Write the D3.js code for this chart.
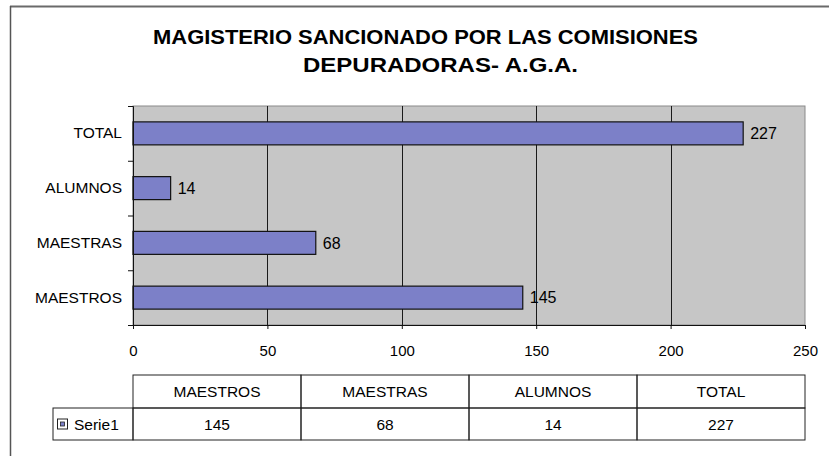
<!DOCTYPE html>
<html>
<head>
<meta charset="utf-8">
<script src="https://cdn.jsdelivr.net/npm/d3@7"></script>
<style>
  html, body { margin: 0; padding: 0; background: #fff; }
  svg text { font-family: "Liberation Sans", Arial, sans-serif; fill: #000; }
</style>
</head>
<body>
<svg id="chart" width="829" height="456"></svg>
<script>
// ---- data ----
const categories = ["MAESTROS", "MAESTRAS", "ALUMNOS", "TOTAL"];
const values = [145, 68, 14, 227];
const seriesName = "Serie1";
const xTicks = [0, 50, 100, 150, 200, 250];
const titleLines = ["MAGISTERIO SANCIONADO POR LAS COMISIONES", "DEPURADORAS- A.G.A."];

const data = categories.map((c, i) => ({ cat: c, val: values[i] }));
const FONT = "Liberation Sans, Arial, sans-serif";

const svg = d3.select("#chart");

// outer frame (top and left edges visible)
svg.append("line").attr("x1", 10).attr("y1", 6.5).attr("x2", 829).attr("y2", 6.5)
  .attr("stroke", "#6a6a6a").attr("stroke-width", 2);
svg.append("line").attr("x1", 10.5).attr("y1", 6).attr("x2", 10.5).attr("y2", 456)
  .attr("stroke", "#555").attr("stroke-width", 1.5);

// title
svg.append("text").attr("x", 425.5).attr("y", 44).attr("text-anchor", "middle")
  .attr("font-size", 21).attr("font-weight", "bold")
  .attr("textLength", 545).attr("lengthAdjust", "spacingAndGlyphs")
  .text(titleLines[0]);
svg.append("text").attr("x", 440.5).attr("y", 72).attr("text-anchor", "middle")
  .attr("font-size", 21).attr("font-weight", "bold")
  .attr("textLength", 275).attr("lengthAdjust", "spacingAndGlyphs")
  .text(titleLines[1]);

// plot area
const plot = { left: 133, right: 805, top: 106, bottom: 325 };
const x = d3.scaleLinear().domain([0, 250]).range([plot.left, plot.right]);
const y = d3.scaleBand().domain(categories.slice().reverse())
  .range([plot.top, plot.bottom]).paddingInner(0.58).paddingOuter(0.29);
const yBound = d3.scaleLinear().domain([0, categories.length]).range([plot.top, plot.bottom]);

svg.append("rect").attr("x", plot.left).attr("y", plot.top)
  .attr("width", plot.right - plot.left).attr("height", plot.bottom - plot.top)
  .attr("fill", "#c6c6c6").attr("stroke", "#8a8a8a").attr("stroke-width", 1);

// vertical gridlines
svg.append("g").selectAll("line").data(xTicks.slice(1, -1)).join("line")
  .attr("x1", d => Math.round(x(d)) + 0.5).attr("x2", d => Math.round(x(d)) + 0.5)
  .attr("y1", plot.top).attr("y2", plot.bottom)
  .attr("stroke", "#1a1a1a").attr("stroke-width", 1);

// bars
svg.append("g").selectAll("rect").data(data).join("rect")
  .attr("x", x(0)).attr("y", d => y(d.cat))
  .attr("width", d => x(d.val) - x(0)).attr("height", y.bandwidth())
  .attr("fill", "#7c80c8").attr("stroke", "#111").attr("stroke-width", 1.2);

// value labels
svg.append("g").selectAll("text").data(data).join("text")
  .attr("x", d => x(d.val) + 7).attr("y", d => y(d.cat) + y.bandwidth() / 2)
  .attr("dy", "0.36em").attr("font-size", 16).text(d => d.val);

// x axis
const xAxis = svg.append("g").attr("transform", `translate(0,${plot.bottom})`)
  .call(d3.axisBottom(x).tickValues(xTicks).tickSize(4).tickPadding(16));
xAxis.select(".domain").attr("stroke", "#111");
xAxis.selectAll(".tick line").attr("stroke", "#111");
xAxis.selectAll("text").attr("font-size", 15).attr("font-family", FONT);

// y axis: boundary ticks
const yAxisTicks = svg.append("g").attr("transform", `translate(${plot.left},0)`)
  .call(d3.axisLeft(yBound).ticks(4).tickSize(5).tickFormat(""));
yAxisTicks.select(".domain").attr("stroke", "#111");
yAxisTicks.selectAll(".tick line").attr("stroke", "#111");

// y axis: category labels
const yAxis = svg.append("g").attr("transform", `translate(${plot.left},0)`)
  .call(d3.axisLeft(y).tickSize(0).tickPadding(11));
yAxis.select(".domain").remove();
yAxis.selectAll("text").attr("font-size", 15.5).attr("font-family", FONT);

// data table
const tbl = { top: 375, mid: 408, bottom: 440, legendLeft: 53 };
const xc = d3.scaleBand().domain(categories).range([plot.left, plot.right]);
const tg = svg.append("g");
const stroke = "#222";
tg.selectAll("rect.h").data(categories).join("rect").attr("class", "h")
  .attr("x", d => xc(d)).attr("y", tbl.top).attr("width", xc.bandwidth()).attr("height", tbl.mid - tbl.top)
  .attr("fill", "none").attr("stroke", stroke).attr("stroke-width", 1);
tg.selectAll("rect.v").data(categories).join("rect").attr("class", "v")
  .attr("x", d => xc(d)).attr("y", tbl.mid).attr("width", xc.bandwidth()).attr("height", tbl.bottom - tbl.mid)
  .attr("fill", "none").attr("stroke", stroke).attr("stroke-width", 1);
tg.append("rect").attr("x", tbl.legendLeft).attr("y", tbl.mid)
  .attr("width", plot.left - tbl.legendLeft).attr("height", tbl.bottom - tbl.mid)
  .attr("fill", "none").attr("stroke", stroke).attr("stroke-width", 1);
tg.selectAll("text.h").data(categories).join("text").attr("class", "h")
  .attr("x", d => xc(d) + xc.bandwidth() / 2).attr("y", (tbl.top + tbl.mid) / 2)
  .attr("dy", "0.36em").attr("text-anchor", "middle").attr("font-size", 15.5).text(d => d);
tg.selectAll("text.v").data(data).join("text").attr("class", "v")
  .attr("x", d => xc(d.cat) + xc.bandwidth() / 2).attr("y", (tbl.mid + tbl.bottom) / 2)
  .attr("dy", "0.36em").attr("text-anchor", "middle").attr("font-size", 15.5).text(d => d.val);
// legend key
const ky = (tbl.mid + tbl.bottom) / 2;
tg.append("rect").attr("x", 57.5).attr("y", ky - 5).attr("width", 10).attr("height", 10)
  .attr("fill", "#fff").attr("stroke", "#222").attr("stroke-width", 1);
tg.append("rect").attr("x", 60.5).attr("y", ky - 2).attr("width", 4).attr("height", 4)
  .attr("fill", "#7c80c8").attr("stroke", "#222").attr("stroke-width", 0.8);
tg.append("text").attr("x", 74).attr("y", ky).attr("dy", "0.36em")
  .attr("font-size", 15.5).text(seriesName);
</script>
</body>
</html>
